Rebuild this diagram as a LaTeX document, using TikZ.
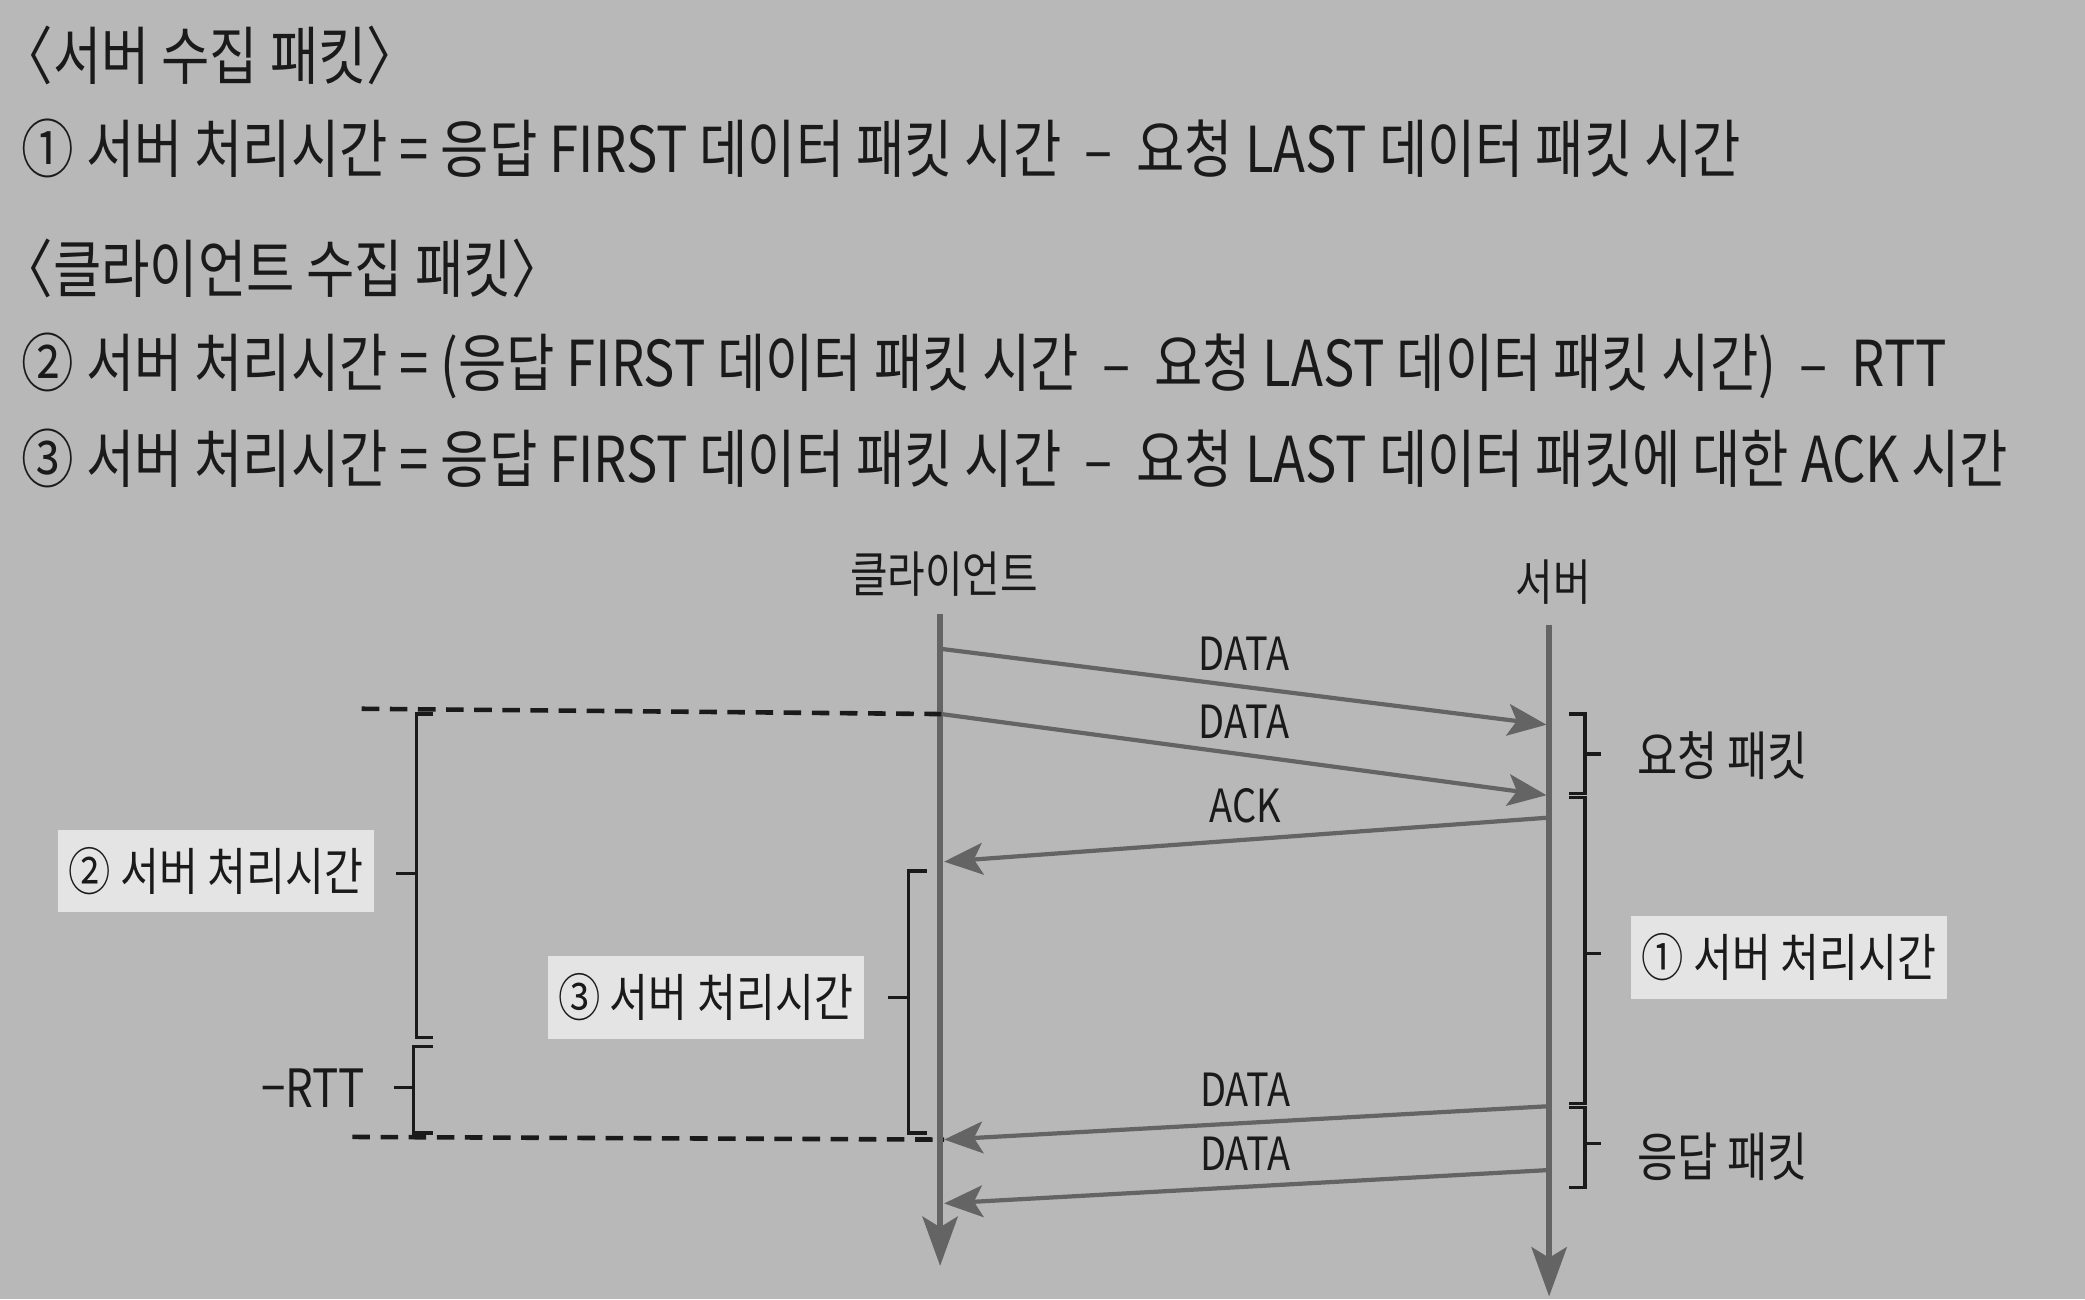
\documentclass[tikz,border=0pt]{standalone}
\usepackage{fontspec}
\setmainfont{Noto Sans CJK KR}[FakeStretch=0.83]
\usepackage{tikz}
\usetikzlibrary{positioning,arrows.meta}
\definecolor{colorpaper}{RGB}{184,184,184}
\definecolor{colorline} {RGB}{100,100,100}
\definecolor{colortext} {RGB}{26 ,26 ,26 }
\definecolor{colorbox}  {RGB}{228,228,228}

\begin{document}
\begin{tikzpicture}[
    x=0.013297cm, y=-0.013297cm,
    font={\fontsize{16}{19}\selectfont},
    every node/.style={text=colortext},
    head/.style={anchor=west,inner sep=0pt,font={\fontsize{18}{21}\selectfont}},
    actor/.style={font={\fontsize{15}{18}\selectfont}},
    life/.style={colorline,line width=1.7pt,-{Stealth[length=14pt,width=10pt,inset=3pt]}},
    msg/.style={colorline,line width=1.2pt,-{Stealth[length=11pt,width=9pt,inset=2.5pt]}},
    msgtxt/.style={font={\fontsize{13}{15}\selectfont},inner sep=2pt},
    brack/.style={colortext,line width=0.9pt},
    guide/.style={colortext,line width=1.3pt,dash pattern=on 5pt off 3pt},
    tag/.style={font={\fontsize{14.5}{17}\selectfont},fill=colorbox,inner xsep=3pt,inner ysep=5pt},
]

    \fill[colorpaper] (0,0) rectangle (1568,977);

    % formulas
    \node[head] (srvHead)  at (0,42)   {〈서버 수집 패킷〉};
    \node[head] (srvOne)   at (16,112) {① 서버 처리시간 = 응답 FIRST 데이터 패킷 시간 ~–~ 요청 LAST 데이터 패킷 시간};
    \node[head] (cliHead)  at (0,202)  {〈클라이언트 수집 패킷〉};
    \node[head] (cliTwo)   at (16,275) {② 서버 처리시간 = (응답 FIRST 데이터 패킷 시간 ~–~ 요청 LAST 데이터 패킷 시간) ~–~ RTT};
    \node[head] (cliThree) at (16,345) {③ 서버 처리시간 = 응답 FIRST 데이터 패킷 시간 ~–~ 요청 LAST 데이터 패킷에 대한 ACK 시간};

    % lifelines
    \node[actor,font={\fontsize{14}{17}\selectfont}] (cli) at (710,432) {클라이언트};
    \node[actor,font={\fontsize{14}{17}\selectfont}] (srv) at (1168,438) {서버};
    \coordinate (cliTop) at (707,462);
    \coordinate (cliEnd) at (707,952);
    \coordinate (srvTop) at (1165,470);
    \coordinate (srvEnd) at (1165,975);
    \draw[life] (cliTop) -- (cliEnd);
    \draw[life] (srvTop) -- (srvEnd);

    % messages
    \coordinate (c1) at (708,488);  \coordinate (s1) at (1163,545);
    \coordinate (c2) at (708,537);  \coordinate (s2) at (1163,598);
    \coordinate (s3) at (1163,615); \coordinate (c3) at (710,648);
    \coordinate (s4) at (1163,832); \coordinate (c4) at (710,857);
    \coordinate (s5) at (1163,880); \coordinate (c5) at (710,905);
    \draw[msg] (c1) -- (s1) node[msgtxt,midway,above=2pt] {DATA};
    \draw[msg] (c2) -- (s2) node[msgtxt,midway,above=2pt] {DATA};
    \draw[msg] (s3) -- (c3) node[msgtxt,midway,above=2pt] {ACK};
    \draw[msg] (s4) -- (c4) node[msgtxt,midway,above=2pt] {DATA};
    \draw[msg] (s5) -- (c5) node[msgtxt,midway,above=2pt] {DATA};

    % dashed guides
    \coordinate (gTop) at (272,533);
    \coordinate (gBot) at (265,855);
    \draw[guide] (gTop) -- (c2);
    \draw[guide] (gBot) -- (c4);

    % client side brackets
    \draw[brack] (326,537) -- (313,537) -- (313,780) -- (326,780);
    \draw[brack] (298,657) -- (313,657);
    \node[tag,anchor=east] (tagTwo) at (282,655) {② 서버 처리시간};

    \draw[brack] (326,787) -- (311,787) -- (311,852) -- (326,852);
    \draw[brack] (296,818) -- (311,818);
    \node[actor,anchor=east] (rtt) at (284,818) {−RTT};

    \draw[brack] (697,655) -- (683,655) -- (683,852) -- (697,852);
    \draw[brack] (668,750) -- (683,750);
    \node[tag,anchor=east] (tagThree) at (650,750) {③ 서버 처리시간};

    % server side brackets
    \draw[brack] (1180,537) -- (1192,537) -- (1192,597) -- (1180,597);
    \draw[brack] (1192,567) -- (1204,567);
    \node[actor,anchor=west] (req) at (1222,568) {요청 패킷};

    \draw[brack] (1180,600) -- (1192,600) -- (1192,830) -- (1180,830);
    \draw[brack] (1192,717) -- (1204,717);
    \node[tag,anchor=west] (tagOne) at (1226,720) {① 서버 처리시간};

    \draw[brack] (1180,833) -- (1192,833) -- (1192,893) -- (1180,893);
    \draw[brack] (1192,860) -- (1204,860);
    \node[actor,anchor=west] (resp) at (1222,870) {응답 패킷};

\end{tikzpicture}
\end{document}
